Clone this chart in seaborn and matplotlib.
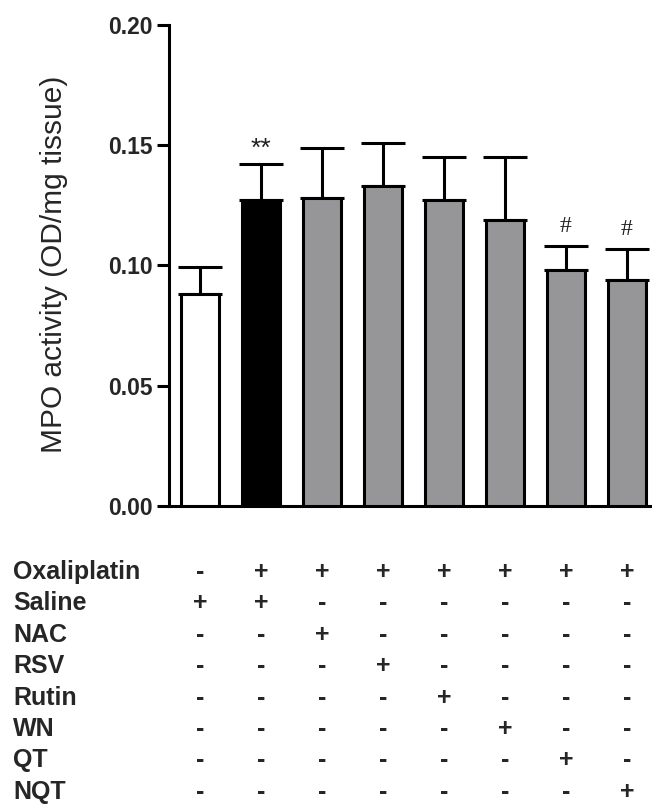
import matplotlib
matplotlib.use("Agg")
import matplotlib.pyplot as plt
import matplotlib.transforms as mtransforms
import numpy as np
import pandas as pd
import seaborn as sns

# Group summary: mean MPO activity and SEM (upper error only)
groups = ["Saline", "Oxaliplatin", "Oxa+NAC", "Oxa+RSV", "Oxa+Rutin", "Oxa+WN", "Oxa+QT", "Oxa+NQT"]
mpo_mean = [0.088, 0.127, 0.128, 0.133, 0.127, 0.119, 0.098, 0.094]
mpo_sem = [0.0115, 0.015, 0.021, 0.018, 0.018, 0.026, 0.010, 0.013]
bar_colors = ["#ffffff", "#000000", "#959599", "#959599", "#959599", "#959599", "#959599", "#959599"]
marks = ["", "**", "", "", "", "", "#", "#"]

# Treatment matrix printed under the bars
treat_rows = ["Oxaliplatin", "Saline", "NAC", "RSV", "Rutin", "WN", "QT", "NQT"]
treat_table = [
    ["-", "+", "+", "+", "+", "+", "+", "+"],
    ["+", "+", "-", "-", "-", "-", "-", "-"],
    ["-", "-", "+", "-", "-", "-", "-", "-"],
    ["-", "-", "-", "+", "-", "-", "-", "-"],
    ["-", "-", "-", "-", "+", "-", "-", "-"],
    ["-", "-", "-", "-", "-", "+", "-", "-"],
    ["-", "-", "-", "-", "-", "-", "+", "-"],
    ["-", "-", "-", "-", "-", "-", "-", "+"],
]
y_ticks = [0.00, 0.05, 0.10, 0.15, 0.20]

sns.set_theme(style="ticks")
plt.rcParams["font.family"] = ["Liberation Sans", "DejaVu Sans"]

W, H = 652, 809
fig = plt.figure(figsize=(W / 100, H / 100), dpi=100)
ax = fig.add_axes([169 / W, 1 - 506 / H, (W - 169) / W, (506 - 24.8) / H])

df = pd.DataFrame({"group": groups, "mpo": mpo_mean})
LW = 2.2
sns.barplot(data=df, x="group", y="mpo", hue="group", palette=bar_colors,
            legend=False, width=0.63, edgecolor="black", linewidth=LW,
            errorbar=None, ax=ax, zorder=3)

xpos = np.arange(len(groups))
ax.errorbar(xpos, mpo_mean, yerr=[np.zeros(len(groups)), mpo_sem], fmt="none",
            ecolor="black", elinewidth=LW, capsize=15.5, capthick=LW, zorder=2)

for x, m, s, t in zip(xpos, mpo_mean, mpo_sem, marks):
    if not t:
        continue
    if t == "#":
        ax.annotate(t, (x, m + s), xytext=(0, 14), textcoords="offset points",
                    ha="center", va="center", fontsize=17,
                    family=["Liberation Serif", "DejaVu Serif"], color="#222222")
    else:
        ax.annotate(t, (x, m + s), xytext=(0, 11), textcoords="offset points",
                    ha="center", va="center", fontsize=19, color="#222222")

ax.set_xlim(-0.508, 7.41)
ax.set_ylim(0, 0.20)
ax.set_yticks(y_ticks)
ax.set_yticklabels([f"{v:.2f}" for v in y_ticks], fontsize=16.5, fontweight="bold")
ax.tick_params(axis="y", length=8.5, width=LW, pad=3.5, color="black")
ax.tick_params(axis="x", length=0, labelbottom=False)
ax.set_xlabel("")
ax.set_ylabel("MPO activity (OD/mg tissue)", fontsize=21.5)
ax.yaxis.set_label_coords(-0.209, 0.503)
for side in ["top", "right"]:
    ax.spines[side].set_visible(False)
for side in ["left", "bottom"]:
    ax.spines[side].set_linewidth(LW)
    ax.spines[side].set_color("black")

# Treatment table: x follows the bar positions, y in figure coordinates
trans = mtransforms.blended_transform_factory(ax.transData, fig.transFigure)
row_y0, row_dy = 572, 31.4
for r, (name, row) in enumerate(zip(treat_rows, treat_table)):
    yf = 1 - (row_y0 + r * row_dy) / H
    fig.text(13 / W, yf, name, ha="left", va="center", fontsize=18, fontweight="bold")
    for c, sym in enumerate(row):
        fig.text(xpos[c], yf, sym, transform=trans, ha="center", va="center",
                 fontsize=18, fontweight="bold")

fig.savefig("out.png", dpi=100)
